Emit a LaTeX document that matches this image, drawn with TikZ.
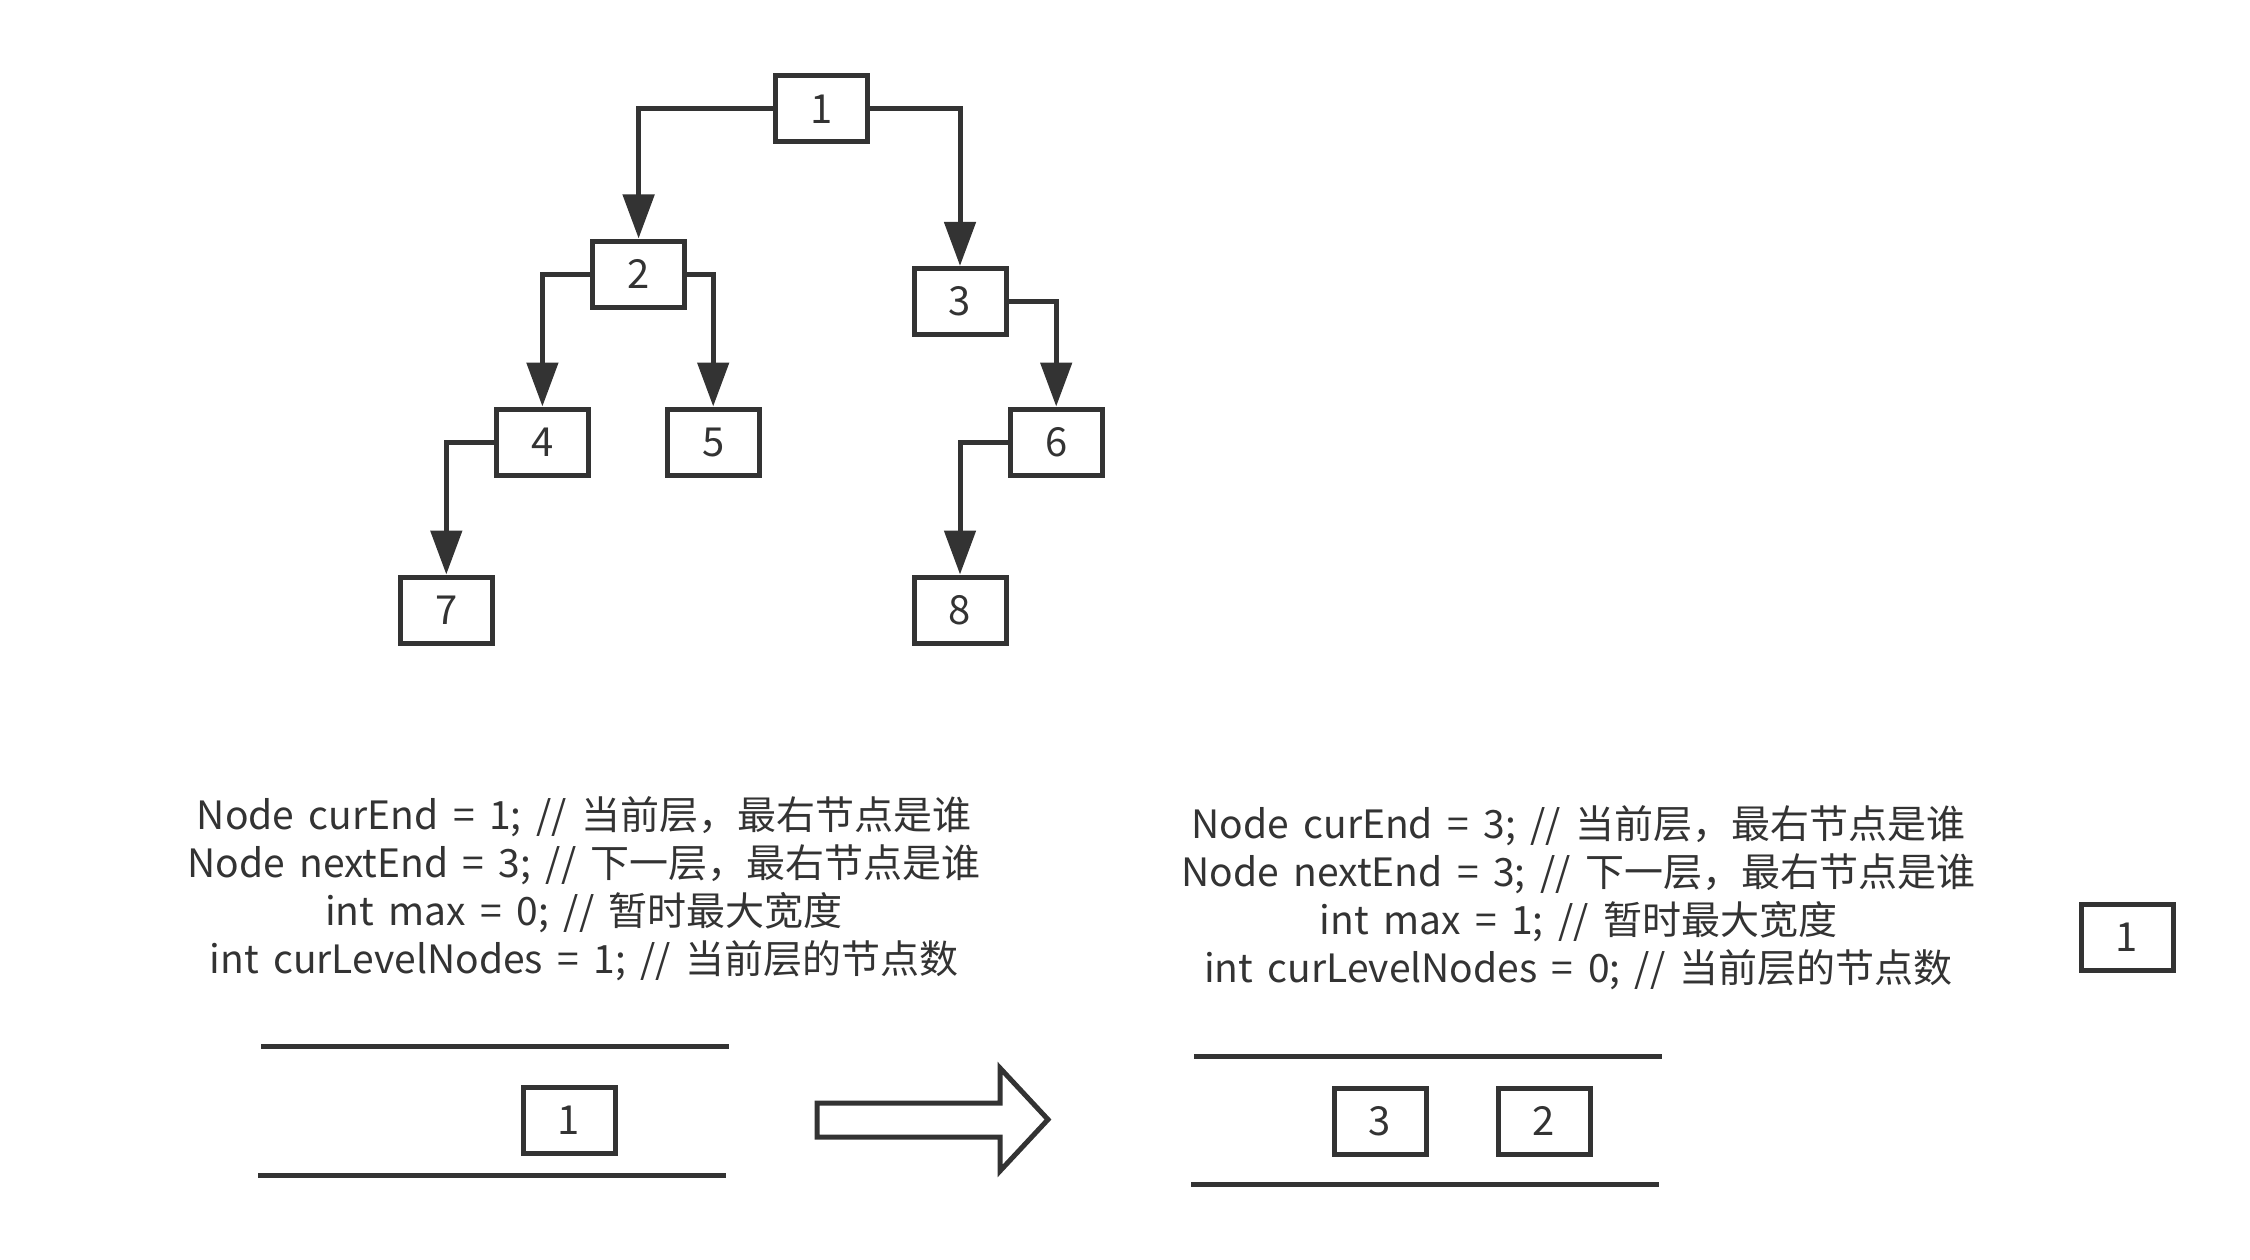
\documentclass[tikz,border=0pt]{standalone}
\usepackage{fontspec}
\setmainfont{Noto Sans CJK SC}[WordSpace=1.65]
\usetikzlibrary{arrows.meta}
\definecolor{ink}{HTML}{333333}
\begin{document}
\begin{tikzpicture}[x=1pt,y=-1pt,
  box/.style={draw=ink,line width=5pt,minimum width=92pt,minimum height=66pt,inner sep=0pt,font=\fontsize{40}{40}\selectfont,text=ink},
  edge/.style={draw=ink,line width=5pt,-{Triangle[length=44pt,width=31pt]}},
  code/.style={align=center,font=\fontsize{39}{48}\selectfont,text=ink,inner sep=0pt},
  rail/.style={draw=ink,line width=5pt}]
\useasboundingbox (0,0) rectangle (2250,1260);
% tree
\node[box] (n1) at (821.5,109) {1};
\node[box] (n2) at (638.6,274) {2};
\node[box] (n3) at (960,301.4) {3};
\node[box] (n4) at (542.4,442) {4};
\node[box] (n5) at (713.2,442) {5};
\node[box] (n6) at (1056.2,442) {6};
\node[box] (n7) at (446.3,610) {7};
\node[box] (n8) at (960,610) {8};
\draw[edge] (n1.west) -| (n2.north);
\draw[edge] (n1.east) -| (n3.north);
\draw[edge] (n2.west) -| (n4.north);
\draw[edge] (n2.east) -| (n5.north);
\draw[edge] (n3.east) -| (n6.north);
\draw[edge] (n4.west) -| (n7.north);
\draw[edge] (n6.west) -| (n8.north);
% code blocks
\node[code] (c1) at (584,889) {Node curEnd = 1; // 当前层，最右节点是谁\\Node nextEnd = 3; // 下一层，最右节点是谁\\int max = 0; // 暂时最大宽度\\int curLevelNodes = 1; // 当前层的节点数};
\node[code] (c2) at (1578.5,898) {Node curEnd = 3; // 当前层，最右节点是谁\\Node nextEnd = 3; // 下一层，最右节点是谁\\int max = 1; // 暂时最大宽度\\int curLevelNodes = 0; // 当前层的节点数};
\node[box] (r1) at (2127,937) {1};
% queue 1
\coordinate (q1a) at (261,1046);
\coordinate (q1b) at (729,1046);
\coordinate (q1c) at (258,1175);
\coordinate (q1d) at (726,1175);
\draw[rail] (q1a) -- (q1b);
\draw[rail] (q1c) -- (q1d);
\node[box] (qa1) at (569,1120) {1};
% hollow arrow
\draw[rail,line join=miter] (817,1103) -- (1000,1103) -- (1000,1068) -- (1048,1119.5) -- (1000,1171) -- (1000,1137) -- (817,1137) -- cycle;
% queue 2
\coordinate (q2a) at (1194,1056);
\coordinate (q2b) at (1662,1056);
\coordinate (q2c) at (1191,1184);
\coordinate (q2d) at (1659,1184);
\draw[rail] (q2a) -- (q2b);
\draw[rail] (q2c) -- (q2d);
\node[box] (qb3) at (1380,1121) {3};
\node[box] (qb2) at (1544,1121) {2};
\end{tikzpicture}
\end{document}
